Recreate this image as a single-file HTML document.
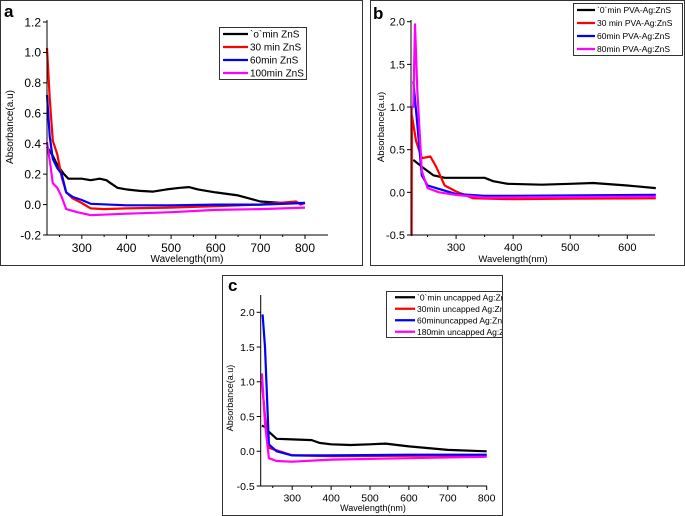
<!DOCTYPE html>
<html><head><meta charset="utf-8"><style>
html,body{margin:0;padding:0;background:#fff;}
svg{display:block;font-family:"Liberation Sans",sans-serif;}
</style></head><body>
<svg id="fig" width="685" height="516" viewBox="0 0 685 516" xmlns="http://www.w3.org/2000/svg">
<defs><clipPath id="clipc"><rect x="223" y="276" width="279" height="239"/></clipPath></defs>
<rect x="0.5" y="0.5" width="362" height="265" fill="none" stroke="#333" stroke-width="1"/>
<rect x="370.5" y="0.5" width="314" height="265" fill="none" stroke="#333" stroke-width="1"/>
<rect x="222.5" y="275.5" width="280" height="240" fill="none" stroke="#333" stroke-width="1"/>
<text x="4" y="17" font-size="17" font-weight="bold">a</text>
<text x="373" y="19" font-size="17" font-weight="bold">b</text>
<text x="228" y="291" font-size="17" font-weight="bold">c</text>
</svg>
<script>
// Panel a data
const aWlBlack=[222,235,245,260,270,300,320,340,355,365,380,400,430,460,490,520,540,560,600,650,700,750,780,800];
const aBlack=[0.38,0.32,0.26,0.2,0.17,0.17,0.16,0.17,0.16,0.14,0.11,0.1,0.09,0.085,0.1,0.11,0.115,0.1,0.08,0.06,0.02,0.01,0.01,0.01];
const aWlRed=[222,228,235,245,255,265,280,300,320,350,400,500,600,700,780,790,800];
const aRed=[1.03,0.7,0.42,0.33,0.18,0.08,0.04,0.01,-0.025,-0.03,-0.025,-0.02,-0.01,0.0,0.02,0.0,0.01];
const aWlBlue=[222,228,235,245,255,265,280,300,320,400,500,600,700,800];
const aBlue=[0.72,0.45,0.3,0.24,0.2,0.08,0.05,0.03,0.005,-0.005,-0.005,0.0,0.0,0.01];
const aWlMag=[222,230,235,245,255,265,290,320,400,500,600,700,800];
const aMag=[0.41,0.25,0.14,0.11,0.05,-0.03,-0.05,-0.07,-0.06,-0.05,-0.035,-0.03,-0.02];
const aXTicks=[300,400,500,600,700,800];
const aYTicks=[-0.2,0.0,0.2,0.4,0.6,0.8,1.0,1.2];
const aLegend=["`o`min ZnS","30 min ZnS","60min ZnS","100min ZnS"];
// Panel b data
const bWlBlack=[225,240,260,280,320,350,365,390,450,500,540,600,650];
const bBlack=[0.38,0.3,0.2,0.17,0.17,0.17,0.13,0.1,0.09,0.1,0.11,0.08,0.05];
const bWlRed=[222,222,222.5,230,240,255,265,280,300,330,400,500,650];
const bRed=[1.0,-0.5,0.9,0.6,0.4,0.42,0.3,0.08,0.01,-0.07,-0.08,-0.075,-0.07];
const bWlBlue=[225,232,240,250,270,300,350,400,650];
const bBlue=[1.3,0.8,0.2,0.08,0.04,-0.02,-0.04,-0.04,-0.03];
const bWlMag=[222,225,228,232,240,250,270,300,350,650];
const bMag=[1.0,1.0,1.97,1.2,0.25,0.05,0.0,-0.03,-0.06,-0.05];
const bXTicks=[300,400,500,600];
const bYTicks=[-0.5,0.0,0.5,1.0,1.5,2.0];
const bLegend=["`0`min PVA-Ag:ZnS","30 min PVA-Ag:ZnS","60min PVA-Ag:ZnS","80min PVA-Ag:ZnS"];
// Panel c data
const cWlBlack=[222,230,240,260,300,350,370,400,450,500,540,600,700,800];
const cBlack=[0.37,0.35,0.28,0.18,0.17,0.16,0.12,0.1,0.09,0.1,0.11,0.07,0.02,0.0];
const cWlRed=[222,230,240,300,400,800];
const cRed=[1.0,0.5,0.05,-0.06,-0.07,-0.06];
const cWlBlue=[224,230,240,260,300,400,600,800];
const cBlue=[1.97,1.5,0.1,0.0,-0.06,-0.06,-0.05,-0.05];
const cWlMag=[222,230,240,260,300,400,600,800];
const cMag=[1.12,0.4,-0.1,-0.14,-0.15,-0.12,-0.1,-0.08];
const cXTicks=[300,400,500,600,700,800];
const cYTicks=[-0.5,0.0,0.5,1.0,1.5,2.0];
const cLegend=["`0`min uncapped Ag:ZnS","30min uncapped Ag:ZnS","60minuncapped Ag:ZnS","180min uncapped Ag:ZnS"];

const NS="http://www.w3.org/2000/svg";
const svg=document.getElementById('fig');
const COLORS=["#000","#f00","#00f","#f0f"];
function mk(tag,attrs,parent){const e=document.createElementNS(NS,tag);for(const k in attrs)e.setAttribute(k,attrs[k]);(parent||svg).appendChild(e);return e;}

function panel(p){
  const g=mk('g',{});
  
  
  const xs=v=>p.x0+(v-p.xmin)/(p.xmax-p.xmin)*(p.x1-p.x0);
  const ys=v=>p.y0-(v-p.ymin)/(p.ymax-p.ymin)*(p.y0-p.y1);
  p.series.forEach((s,i)=>{
    const d=s[0].map((w,j)=>(j?'L':'M')+xs(w).toFixed(1)+','+ys(s[1][j]).toFixed(1)).join('');
    const path=mk('path',{d:d,fill:'none',stroke:COLORS[i],'stroke-width':2.2,'stroke-linejoin':'round'},g);
    
    
  });
  const ax=mk('path',{d:`M${p.x0},${p.yTop}V${p.y0}H${p.xEnd}`,fill:'none',stroke:'#000','stroke-width':1},g);
  
  
  p.xt.forEach(v=>{
    const x=xs(v);
    mk('line',{x1:x,x2:x,y1:p.y0,y2:p.y0+4,stroke:'#000'},g);
    const mx=xs(v-50); if(mx>p.x0) mk('line',{x1:mx,x2:mx,y1:p.y0,y2:p.y0+2,stroke:'#000'},g);
    const t=mk('text',{x:x,y:p.y0+5+p.fs,'font-size':p.fs,'text-anchor':'middle'},g);
    t.textContent=v;
    
    
  });
  p.yt.forEach(v=>{
    const y=ys(v);
    mk('line',{x1:p.x0-4,x2:p.x0,y1:y,y2:y,stroke:'#000'},g);
    const t=mk('text',{x:p.x0-6,y:y+p.fs*0.36,'font-size':p.fs,'text-anchor':'end'},g);
    t.textContent=v.toFixed(1);
    
    
  });
  const xl=mk('text',{x:p.xlx,y:p.xly,'font-size':p.lfs,'text-anchor':'middle'},g);
  xl.textContent='Wavelength(nm)';
  
  
  const yl=mk('text',{x:0,y:0,'font-size':p.lfs,'text-anchor':'middle',transform:`translate(${p.ylx},${p.yly}) rotate(-90)`},g);
  yl.textContent='Absorbance(a.u)';
  
  
  const L=p.leg;
  const lg=mk('g',L.clip?{'clip-path':'url(#'+L.clip+')'}:{},g);
  const lb=mk('rect',{x:L.x+0.5,y:L.y+0.5,width:L.w,height:L.h,fill:'#fff',stroke:'#333'},lg);
  
  
  const rh=L.h/4;
  p.legend.forEach((txt,i)=>{
    const cy=L.y+rh*(i+0.5)+0.5;
    mk('line',{x1:L.x+L.pad,x2:L.x+L.pad+L.sw,y1:cy,y2:cy,stroke:COLORS[i],'stroke-width':2.2},lg);
    const t=mk('text',{x:L.x+L.pad+2+L.sw,y:cy+L.fs*0.36,'font-size':L.fs},lg);
    t.textContent=txt;
    
    
  });
}

panel({id:'panel-a',x0:47,x1:305,xmin:222,xmax:800,y0:235,y1:22,ymin:-0.2,ymax:1.2,yTop:20,xEnd:328,
  xt:aXTicks,yt:aYTicks,fs:12,lfs:10,xlx:187,xly:262,ylx:13,yly:127,
  series:[[aWlBlack,aBlack],[aWlRed,aRed],[aWlBlue,aBlue],[aWlMag,aMag]],legend:aLegend,
  leg:{x:219,y:27,w:87,h:52,sw:25,fs:10,pad:4}});
panel({id:'panel-b',x0:411,x1:627.3,xmin:221,xmax:600,y0:235,y1:21.7,ymin:-0.5,ymax:2.0,yTop:20,xEnd:655,
  xt:bXTicks,yt:bYTicks,fs:11,lfs:9.5,xlx:513,xly:262,ylx:384,yly:127,
  series:[[bWlBlack,bBlack],[bWlRed,bRed],[bWlBlue,bBlue],[bWlMag,bMag]],legend:bLegend,
  leg:{x:573,y:3,w:109,h:52,sw:18,fs:8.5,pad:4}});
panel({id:'panel-c',x0:260.7,x1:486.7,xmin:219,xmax:800,y0:486,y1:312.3,ymin:-0.5,ymax:2.0,yTop:295,xEnd:487,
  xt:cXTicks,yt:cYTicks,fs:10.5,lfs:9,xlx:373,xly:511,ylx:233,yly:398,
  series:[[cWlBlack,cBlack],[cWlRed,cRed],[cWlBlue,cBlue],[cWlMag,cMag]],legend:cLegend,
  leg:{x:386,y:291,w:130,h:46,sw:20,fs:8.5,pad:9,clip:'clipc'}});
</script>
</body></html>
